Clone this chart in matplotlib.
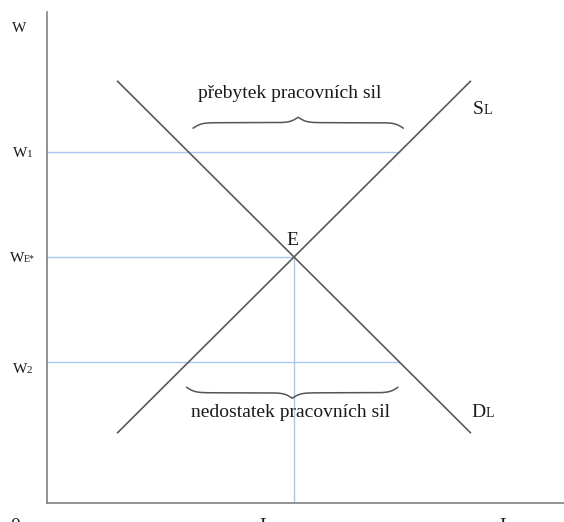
import numpy as np
import matplotlib
matplotlib.use("Agg")
import matplotlib.pyplot as plt
from matplotlib.transforms import offset_copy

plt.rcParams['font.family'] = ['Liberation Serif', 'DejaVu Serif']

# ---- data (economic units) ----
L_range = [1.43, 8.57]          # end points of the curves on the L axis
supply_w = [1.43, 8.57]         # S_L rises
demand_w = [8.57, 1.43]         # D_L falls
L_E = 5.0
w_E = 5.0
w_1 = 7.13
w_2 = 2.87
# where horizontal price lines end (at the far curve)
w1_end = 7.13
w2_end = 7.13
surplus_span = [2.96, 7.21]
shortage_span = [2.83, 7.10]
surplus_text = "přebytek pracovních sil"
shortage_text = "nedostatek pracovních sil"

fig = plt.figure(figsize=(5.64, 5.22), dpi=100)
ax = fig.add_axes([47/564, 19/522, 517/564, 491/522])
ax.set_xlim(0, 517/49.4)
ax.set_ylim(0, 491/49.2)
for s in ['top', 'right']:
    ax.spines[s].set_visible(False)
for s in ['left', 'bottom']:
    ax.spines[s].set_color('#808080')
    ax.spines[s].set_linewidth(1.2)
ax.set_xticks([])
ax.set_yticks([])

blue = '#a9c6f0'
gray = '#5a5a5a'
ax.plot([0, w1_end], [w_1, w_1], color=blue, lw=1.0, zorder=1)
ax.plot([0, L_E], [w_E, w_E], color=blue, lw=1.0, zorder=1)
ax.plot([0, w2_end], [w_2, w_2], color=blue, lw=1.0, zorder=1)
ax.plot([L_E, L_E], [0, w_E], color=blue, lw=1.0, zorder=1)

ax.plot(L_range, supply_w, color=gray, lw=1.2, zorder=2)
ax.plot(L_range, demand_w, color=gray, lw=1.2, zorder=2)


def brace(x0, x1, base, h, beta=12.0):
    n = 400
    xs = np.linspace(x0, x1, n)
    half = xs[:n // 2 + 1]
    f = (1 / (1 + np.exp(-beta * (half - half[0]))) +
         1 / (1 + np.exp(-beta * (half - half[-1]))))
    f = np.concatenate((f, f[-2::-1]))
    ys = base + (f - 0.5) * h
    xs = np.linspace(x0, x1, len(ys))
    ax.plot(xs, ys, color='#555555', lw=1.1, zorder=3)


brace(surplus_span[0], surplus_span[1], 7.62, 0.22)
brace(shortage_span[0], shortage_span[1], 2.35, -0.22)

tc = '#1a1a1a'
ax.text(4.92, 8.33, surplus_text, ha='center', va='center', fontsize=14, color=tc)
ax.text(4.92, 1.83, shortage_text, ha='center', va='center', fontsize=14, color=tc)


def lbl(x, y, dx, dy, main, sub, fs, fss, trans=None):
    base = ax.transData if trans is None else trans
    t = offset_copy(base, fig=fig, x=dx, y=dy, units='dots')
    ax.text(x, y, main, transform=t, ha='right', va='baseline', fontsize=fs,
            color=tc, clip_on=False)
    if sub:
        ax.text(x, y, sub, transform=t, ha='left', va='baseline', fontsize=fss,
                color=tc, clip_on=False)


# axis label w (small caps)
lbl(0, 9.98, -21, -20, "W", "", 11, 8)
lbl(0, w_1, -20, -5, "W", "1", 11, 8)
lbl(0, w_E, -23, -5, "W", "E*", 11, 7)
lbl(0, w_2, -20, -11, "W", "2", 11, 8)

lbl(L_E, w_E, 4, 12, "E", "", 14, 10)
lbl(L_range[1], supply_w[1], 13, -33, "S", "L", 14, 10)
lbl(L_range[1], demand_w[1], 15, 16, "D", "L", 14, 10)

lbl(0, 0, -27, -28, "0", "", 14, 10)
lbl(L_E, 0, -23, -28, "L", "E*", 14, 9)
lbl(517/49.4, 0, -53, -28, "L", "", 14, 10)

fig.savefig("out.png", dpi=100)
